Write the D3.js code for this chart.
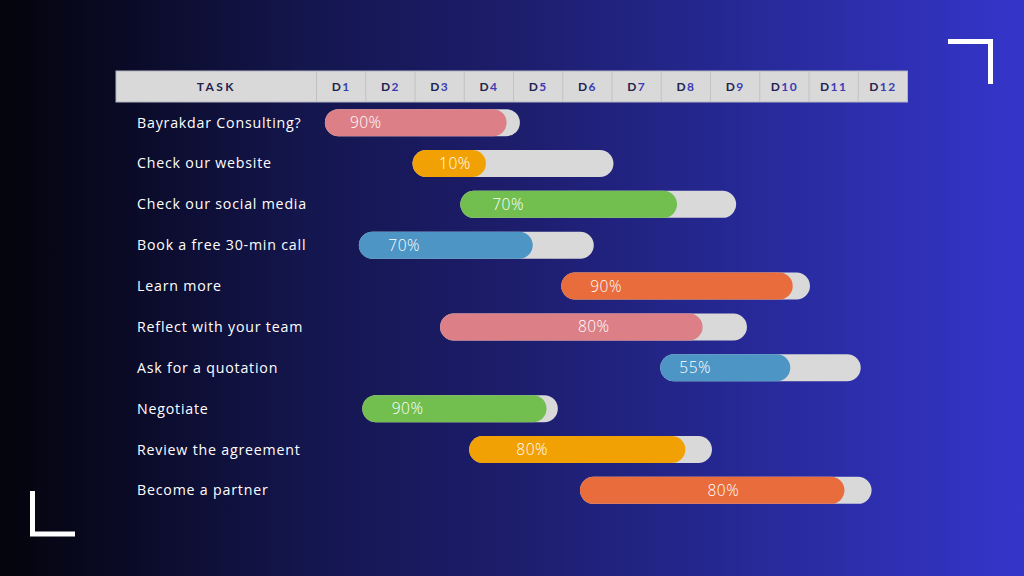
<!DOCTYPE html>
<html>
<head>
<meta charset="utf-8">
<script src="https://cdn.jsdelivr.net/npm/d3@7"></script>
<style>
html,body{margin:0;padding:0;background:#000;}
svg{display:block;}
</style>
</head>
<body>
<svg id="chart" width="1024" height="576"></svg>
<script>
// ---- data ----
const days = ["D1","D2","D3","D4","D5","D6","D7","D8","D9","D10","D11","D12"];
const tasks = ["Bayrakdar Consulting?","Check our website","Check our social media","Book a free 30-min call","Learn more","Reflect with your team","Ask for a quotation","Negotiate","Review the agreement","Become a partner"];
const startDay = [0.17, 1.95, 2.92, 0.86, 4.97, 2.51, 6.98, 0.93, 3.10, 5.35];
const endDay   = [4.13, 6.03, 8.52, 5.63, 10.02, 8.74, 11.05, 4.90, 8.03, 11.27];
const fillDay  = [3.86, 3.44, 7.32, 4.39, 9.67, 7.84, 9.62, 4.67, 7.49, 10.72];
const progressLabel = ["90%","10%","70%","70%","90%","80%","55%","90%","80%","80%"];
const labelDay = [1.00, 2.81, 3.89, 1.78, 5.88, 5.63, 7.69, 1.85, 4.38, 8.26];
const barColors = ["#dc7f87","#f2a104","#72bf50","#4d95c4","#e86c3c","#dc7f87","#4d95c4","#72bf50","#f2a104","#e86c3c"];

const svg = d3.select("#chart");
const W = 1024, H = 576;

// background gradient
const defs = svg.append("defs");
const g1 = defs.append("linearGradient").attr("id","bg").attr("x1","0").attr("x2","1").attr("y1","0").attr("y2","0");
[[0,"#04040c"],[0.12,"#0a0a26"],[0.3,"#14164e"],[0.5,"#1d1d6c"],[0.75,"#272a9a"],[1,"#3535cb"]].forEach(([o,c])=>g1.append("stop").attr("offset",o).attr("stop-color",c));
svg.append("rect").attr("width",W).attr("height",H).attr("fill","url(#bg)");

// scales
const x = d3.scaleLinear().domain([0, days.length]).range([316.5, 907.5]);
const y = d3.scaleBand().domain(d3.range(tasks.length)).range([102, 511]).paddingInner(0.33).paddingOuter(0.17);

// header
const headTop = 71, headH = 31;
const header = svg.append("g");
header.append("rect").attr("x",116).attr("y",headTop).attr("width",x(days.length)-116).attr("height",headH)
  .attr("fill","#d9d9d9").attr("stroke","#b4b4c2").attr("stroke-width",1);
header.append("line").attr("x1",x(0)).attr("x2",x(0)).attr("y1",headTop).attr("y2",headTop+headH).attr("stroke","#c2c2c2");
header.append("text").attr("x",(116+x(0))/2).attr("y",headTop+headH/2+4.5).attr("text-anchor","middle")
  .attr("font-family","Lato, 'Open Sans', sans-serif").attr("font-weight",700).attr("font-size",12)
  .attr("letter-spacing",2.4).attr("fill","#23234f").text("TASK");
const dayG = header.selectAll("g.day").data(days).join("g").attr("class","day");
dayG.append("line").attr("x1",(d,i)=>x(i+1)).attr("x2",(d,i)=>x(i+1)).attr("y1",headTop).attr("y2",headTop+headH)
  .attr("stroke",(d,i)=>i===days.length-1?"none":"#c2c2c2");
const dt = dayG.append("text").attr("x",(d,i)=>x(i+0.5)).attr("y",headTop+headH/2+4.5).attr("text-anchor","middle")
  .attr("font-family","Lato, 'Open Sans', sans-serif").attr("font-weight",700).attr("font-size",12).attr("letter-spacing",1.4);
dt.append("tspan").attr("fill","#23234f").text(d=>d[0]);
dt.append("tspan").attr("fill","#3b3bb4").text(d=>d.slice(1));

// rows
const bh = 27;
const rows = svg.append("g").selectAll("g.row").data(tasks).join("g").attr("class","row");
rows.append("text").attr("x",137).attr("y",(d,i)=>y(i)+y.bandwidth()/2+5)
  .attr("font-family","'Open Sans', sans-serif").attr("font-size",14.2).attr("letter-spacing",0.8)
  .attr("fill","#ffffff").text(d=>d);
rows.append("rect").attr("x",(d,i)=>x(startDay[i])).attr("y",(d,i)=>y(i)+y.bandwidth()/2-bh/2)
  .attr("width",(d,i)=>x(endDay[i])-x(startDay[i])).attr("height",bh).attr("rx",bh/2)
  .attr("fill","#d9d9d9");
rows.append("rect").attr("x",(d,i)=>x(startDay[i])).attr("y",(d,i)=>y(i)+y.bandwidth()/2-bh/2)
  .attr("width",(d,i)=>x(fillDay[i])-x(startDay[i])).attr("height",bh).attr("rx",bh/2)
  .attr("fill",(d,i)=>barColors[i]);
rows.append("text").attr("x",(d,i)=>x(labelDay[i])).attr("y",(d,i)=>y(i)+y.bandwidth()/2+5.5)
  .attr("text-anchor","middle").attr("font-family","'Open Sans', sans-serif").attr("font-weight",300).attr("font-size",15.5)
  .attr("fill","#ffffff").attr("letter-spacing",0.5).text((d,i)=>progressLabel[i]);

// corner marks
svg.append("path").attr("d","M948,41.5 H990.5 V84").attr("fill","none").attr("stroke","#ffffff").attr("stroke-width",5);
svg.append("path").attr("d","M32.5,491 V534 H75").attr("fill","none").attr("stroke","#ffffff").attr("stroke-width",5);
</script>
</body>
</html>
